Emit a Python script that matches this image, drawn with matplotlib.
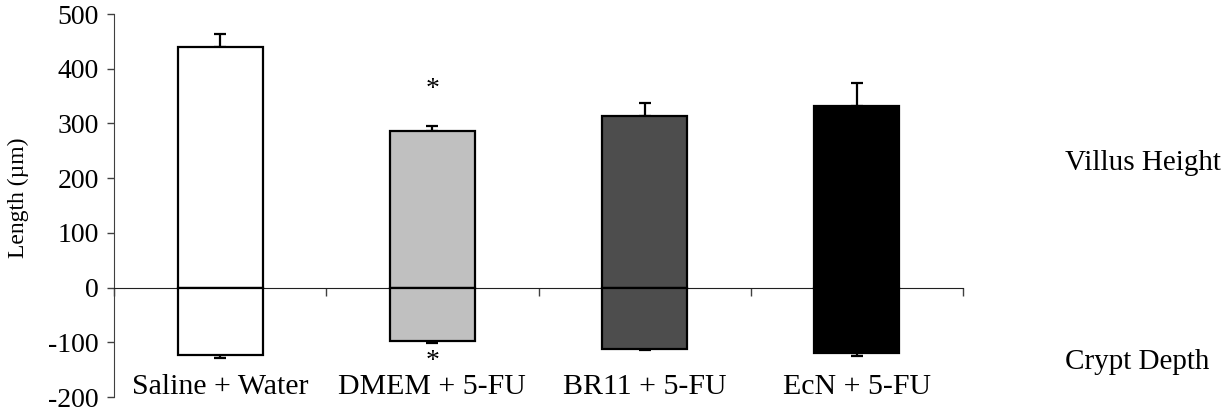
import matplotlib
matplotlib.use('Agg')
import matplotlib.pyplot as plt
import matplotlib.transforms as mtransforms
import numpy as np

# Средние значения и ошибки (мкм)
groups = ['Saline + Water', 'DMEM + 5-FU', 'BR11 + 5-FU', 'EcN + 5-FU']
villus = [439, 286, 313, 332]
villus_err = [25, 9, 25, 42]
crypt = [-124, -98, -112, -119]
crypt_err = [5, 4, 3, 6]
colors = ['white', '#c0c0c0', '#4d4d4d', 'black']
# значимые отличия (*) над и под столбцом
star_up = [None, 362, None, None]
star_down = [None, -135, None, None]

plt.rcParams['font.family'] = ['Liberation Serif', 'DejaVu Serif']

fig = plt.figure(figsize=(12.25, 4.11), dpi=100)
ax = fig.add_axes([114 / 1225, 14 / 411, (963 - 114) / 1225, 383 / 411])

x = np.arange(len(groups))
width = 0.4

# ворсинки вверх, крипты вниз
ax.bar(x, villus, width, color=colors, edgecolor='black', linewidth=1.6, zorder=3)
ax.bar(x, crypt, width, color=colors, edgecolor='black', linewidth=1.6, zorder=3)
ax.errorbar(x, villus, yerr=[np.zeros(4), villus_err], fmt='none',
            ecolor='black', elinewidth=1.6, capsize=4, capthick=1.6, zorder=2)
ax.errorbar(x, crypt, yerr=[crypt_err, np.zeros(4)], fmt='none',
            ecolor='black', elinewidth=1.6, capsize=4, capthick=1.6, zorder=2)

for i in range(len(groups)):
    if star_up[i] is not None:
        ax.text(x[i], star_up[i], '*', ha='center', va='center', fontsize=20)
    if star_down[i] is not None:
        ax.text(x[i], star_down[i], '*', ha='center', va='center', fontsize=20)

ax.set_xlim(-0.5, len(groups) - 0.5)
ax.set_ylim(-200, 500)
ax.set_yticks(range(-200, 501, 100))
ax.set_yticklabels(['-200', '-100', '0', '100', '200', '300', '400', '500'])
ax.tick_params(axis='y', direction='out', length=5, width=1, colors='#404040',
               labelcolor='black', labelsize=20, pad=6)

# ось x по нулю, деления на границах групп
ax.spines['top'].set_visible(False)
ax.spines['right'].set_visible(False)
ax.spines['bottom'].set_position(('data', 0))
ax.spines['bottom'].set_color('#202020')
ax.spines['left'].set_color('#404040')
ax.set_xticks(np.arange(len(groups) + 1) - 0.5)
ax.set_xticklabels([])
ax.tick_params(axis='x', direction='out', length=6, width=1, colors='#404040')

for i, name in enumerate(groups):
    ax.text(x[i], -181, name, ha='center', va='center', fontsize=21.5)

ax.set_ylabel('Length (µm)', fontsize=17)
ax.yaxis.set_label_coords(-0.100, 0.52)

trans = mtransforms.blended_transform_factory(fig.transFigure, ax.transData)
ax.text(1065 / 1225, 227, 'Villus Height', transform=trans, ha='left', va='center', fontsize=21)
ax.text(1065 / 1225, -136, 'Crypt Depth', transform=trans, ha='left', va='center', fontsize=21)

fig.savefig('out.png', dpi=100)
